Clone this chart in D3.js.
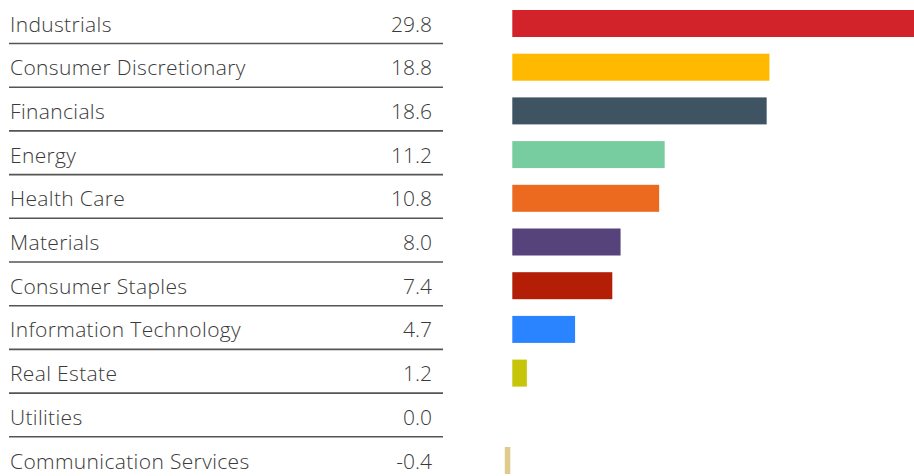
<!DOCTYPE html>
<html><head><meta charset="utf-8">
<script src="https://cdn.jsdelivr.net/npm/d3@7"></script>
<style>
html,body{margin:0;padding:0;background:#fff;}
svg{display:block;}
text{font-variant-ligatures:none;}
</style></head>
<body><svg id="c" width="914" height="476"></svg>
<script>
const categories = ["Industrials","Consumer Discretionary","Financials","Energy","Health Care","Materials","Consumer Staples","Information Technology","Real Estate","Utilities","Communication Services"];
const values = [29.8,18.8,18.6,11.2,10.8,8.0,7.4,4.7,1.2,0.0,-0.4];
const valueLabels = ["29.8","18.8","18.6","11.2","10.8","8.0","7.4","4.7","1.2","0.0","-0.4"];
const colors = ["#D2232A","#FFB900","#3E5463","#78CDA0","#EB6A1F","#56437C","#B51E06","#2A84FF","#C6C50A","#999999","#E0CB8E"];

const svg = d3.select("#c");
const rowH = 43.7;
const y = d3.scaleBand().domain(categories).range([0, rowH*categories.length]).paddingInner(0).paddingOuter(0);
const x = d3.scaleLinear().domain([0, 30]).range([510.3, 510.3 + 413.5]);

const font = "'Open Sans', 'Noto Sans', sans-serif";
const rows = svg.selectAll("g.row").data(categories).join("g").attr("class","row")
  .attr("transform", d => `translate(0,${y(d)})`);

rows.append("text")
  .attr("x", 10).attr("y", 31.5)
  .attr("font-family", font)
  .attr("font-weight", 300)
  .attr("font-size", 21)
  .attr("letter-spacing", 0.35)
  .attr("fill", "#3a3a3a")
  .text(d => d);

rows.append("text")
  .attr("x", 432).attr("y", 31.5)
  .attr("text-anchor", "end")
  .attr("font-family", font)
  .attr("font-weight", 300)
  .attr("font-size", 21)
  .attr("fill", "#3a3a3a")
  .text((d,i) => valueLabels[i]);

rows.filter((d,i) => i < categories.length - 1).append("line")
  .attr("x1", 9).attr("x2", 443)
  .attr("y1", 43.5).attr("y2", 43.5)
  .attr("stroke", "#555")
  .attr("stroke-width", 1.6);

rows.each(function(d,i){
  const v = values[i];
  if (v === 0) return;
  const g = d3.select(this);
  const x0 = v > 0 ? x(0) + 2 : x(v);
  const x1 = v > 0 ? x(v) : x(0);
  g.append("rect")
    .attr("x", x0).attr("y", 10)
    .attr("width", Math.max(0, x1 - x0))
    .attr("height", 27)
    .attr("fill", colors[i]);
});
</script></body></html>
